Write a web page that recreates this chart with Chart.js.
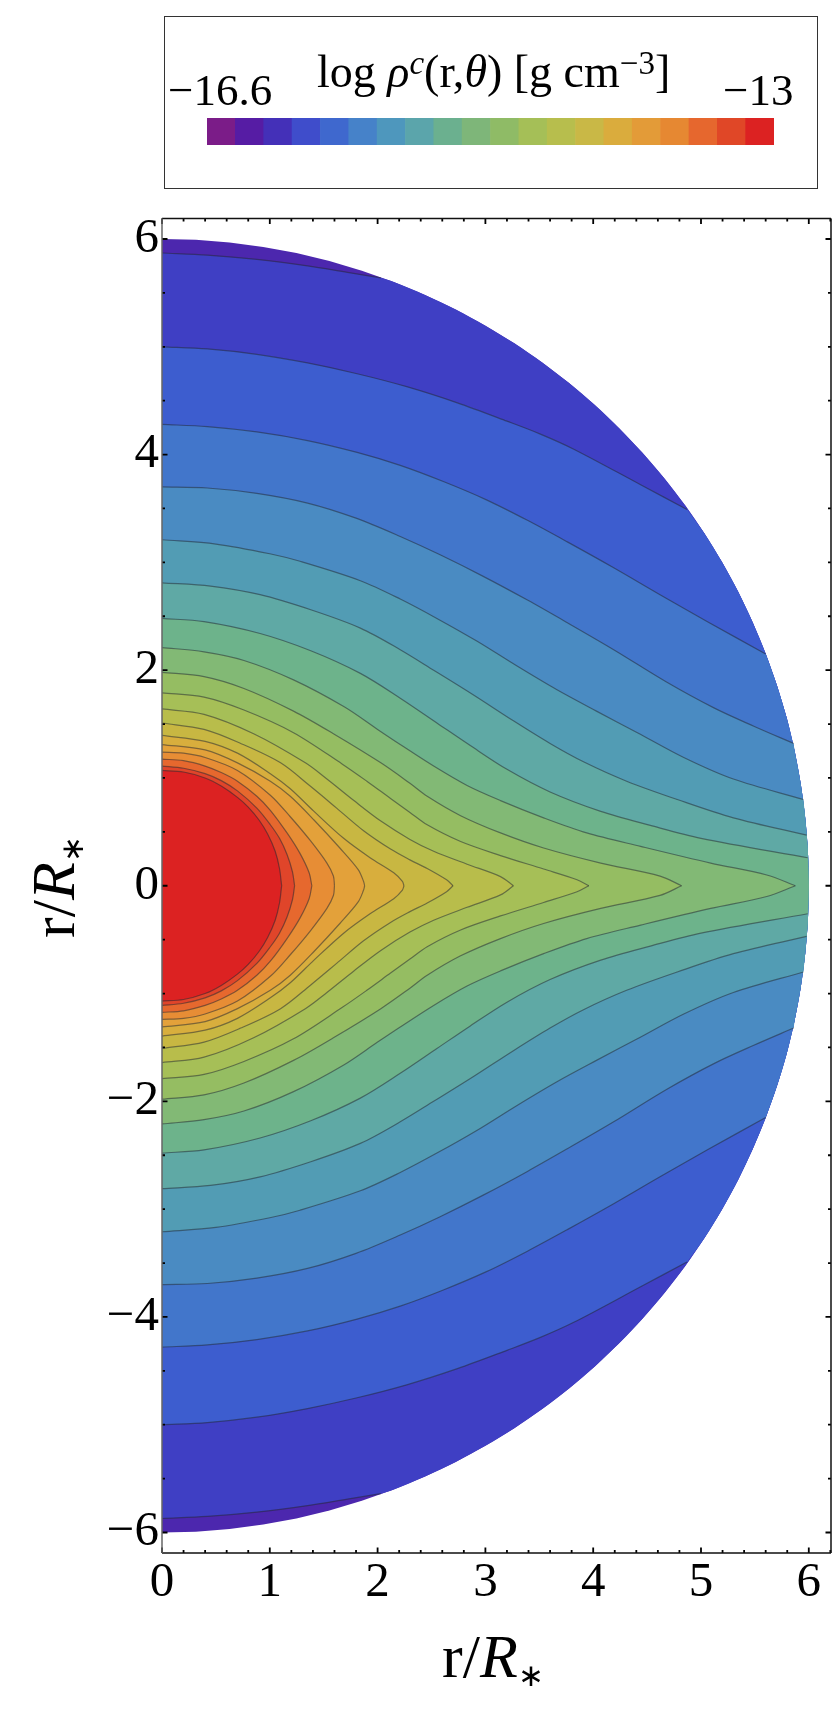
<!DOCTYPE html>
<html><head><meta charset="utf-8">
<style>
html,body{margin:0;padding:0;background:#fff;width:835px;height:1713px;overflow:hidden}
body{position:relative;font-family:"Liberation Serif",serif;color:#000}
#plot,#bar{position:absolute;display:block}
#plot{left:0;top:0}
#bar{left:207px;top:118px}
#box{position:absolute;left:164px;top:16px;width:652px;height:171px;border:1.6px solid #333;box-sizing:content-box}
.t{position:absolute;white-space:nowrap;line-height:0}
.t i{font-style:italic}
.up{position:relative;top:-.38em;font-size:.72em}
.dn{position:relative;top:.3em;font-size:.5em}
</style>
<script src="https://cdn.jsdelivr.net/npm/chart.js@4"></script>
</head><body>
<div id="box"></div>
<canvas id="bar" width="567" height="27"></canvas>
<canvas id="plot" width="835" height="1713"></canvas>
<div class="t" style="left:317px;top:71.5px;font-size:46px">log <i>ρ</i><span class="up"><i>c</i></span>(r,<i>θ</i>) [g cm<span class="up">−3</span>]</div>
<div class="t" style="left:168px;top:90px;font-size:45px">−16.6</div>
<div class="t" style="left:723px;top:90px;font-size:45px">−13</div>
<div class="t" style="left:442px;top:1656px;font-size:62px">r/<i>R</i><span class="dn">∗</span></div>
<div class="t" style="left:53px;top:938px;font-size:62px;transform:rotate(-90deg);transform-origin:0 0">r/<i>R</i><span class="dn">∗</span></div>
<script>
// Colour-bar levels and colours
const barLevels=['-16.6','-16.42','-16.24','-16.06','-15.88','-15.7','-15.52','-15.34','-15.16','-14.98','-14.8','-14.62','-14.44','-14.26','-14.08','-13.9','-13.72','-13.54','-13.36','-13.18'];
const barColors=['#7B1C88','#561CA4','#4430B8','#3F4DCB','#3F68CE','#4682C9','#4E97BD','#5BA5AB','#6BB08F','#7EB679','#8FBB66','#A5BF57','#B7BE4D','#C9B846','#DAAC3D','#E39B38','#E68832','#E6672E','#E04727','#DC2222'];
const barValues=[1,1,1,1,1,1,1,1,1,1,1,1,1,1,1,1,1,1,1,1];
// Fill colours of the plotted bands, outermost first
const bandColors=['#4C27AE','#3F3FC4','#3D5DCF','#4276CB','#4A8BC2','#529CB4','#5FA9A5','#6DB38B','#82B975','#95BD62','#A6BF57','#B8BD4B','#C8B742','#D8AE3D','#E3A13A','#E78D35','#E6682E','#E0452A','#DC2222'];
// Disk edge, upper half, read as [x,y]
const rim=[[6,0],[5.992,.314],[5.967,.627],[5.926,.939],[5.869,1.247],[5.796,1.553],[5.706,1.854],[5.601,2.15],[5.481,2.44],[5.346,2.724],[5.196,3],[5.032,3.268],[4.854,3.527],[4.663,3.776],[4.459,4.015],[4.243,4.243],[4.015,4.459],[3.776,4.663],[3.527,4.854],[3.268,5.032],[3,5.196],[2.724,5.346],[2.44,5.481],[2.15,5.601],[1.854,5.706],[1.553,5.796],[1.247,5.869],[.939,5.926],[.627,5.967],[.314,5.992],[0,6]];
// Contour lines, upper half, from the axis outward
const c01=[[0,5.87],[.42,5.85],[.88,5.81],[1.35,5.75],[1.72,5.69],[2.03,5.64]];
const c02=[[0,5],[.42,4.98],[.88,4.93],[1.35,4.85],[1.81,4.75],[2.27,4.63],[2.74,4.48],[3.2,4.31],[3.51,4.19],[3.82,4.05],[4.44,3.72],[4.87,3.49]];
const c03=[[0,4.28],[.42,4.26],[.88,4.21],[1.35,4.13],[1.81,4.02],[2.21,3.9],[2.61,3.75],[3.01,3.58],[3.39,3.39],[3.76,3.19],[4.19,2.95],[4.62,2.7],[5.06,2.45],[5.6,2.15]];
const c04=[[0,3.7],[.42,3.69],[.88,3.64],[1.35,3.55],[1.8,3.41],[2.21,3.24],[2.58,3.07],[2.98,2.87],[3.39,2.65],[3.76,2.44],[4.19,2.19],[4.68,1.89],[5.12,1.65],[5.49,1.48],[5.86,1.32]];
const c05=[[0,3.21],[.5,3.17],[1,3.08],[1.28,3.01],[1.84,2.83],[2.21,2.66],[2.55,2.48],[2.92,2.27],[3.29,2.04],[3.66,1.82],[4.03,1.62],[4.41,1.42],[4.84,1.19],[5.3,.99],[5.95,.8]];
const c06=[[0,2.81],[.45,2.78],[.91,2.7],[1.38,2.56],[1.84,2.39],[2.21,2.19],[2.52,2],[2.89,1.77],[3.26,1.53],[3.6,1.32],[3.91,1.15],[4.31,.97],[4.78,.8],[5.3,.63],[5.98,.47]];
const c07=[[0,2.48],[.39,2.45],[.91,2.34],[1.38,2.18],[1.84,1.97],[2.21,1.74],[2.55,1.51],[2.86,1.3],[3.2,1.08],[3.6,.87],[4.07,.69],[4.53,.56],[5,.44],[5.99,.26]];
const c08=[[0,2.21],[.39,2.17],[.76,2.09],[1.22,1.91],[1.69,1.66],[2,1.45],[2.21,1.31],[2.52,1.11],[2.83,.93],[3.14,.79],[3.54,.63],[3.94,.49],[4.44,.365],[5.09,.21],[5.61,.1],[5.875,0]];
const c09=[[0,1.98],[.39,1.94],[.76,1.83],[1.22,1.62],[1.59,1.41],[2.03,1.14],[2.3,.95],[2.46,.83],[2.77,.65],[3.14,.49],[3.54,.35],[4.07,.21],[4.62,.09],[4.82,0]];
const c10=[[0,1.79],[.39,1.75],[.76,1.63],[1.22,1.42],[1.67,1.13],[1.9,.97],[2.12,.81],[2.3,.68],[2.46,.565],[2.77,.41],[3.14,.28],[3.54,.155],[3.85,.056],[3.96,0]];
const c11=[[0,1.64],[.39,1.59],[.85,1.41],[1.33,1.14],[1.53,.99],[1.78,.79],[2.03,.6],[2.3,.43],[2.52,.32],[2.83,.2],[3.14,.085],[3.26,0]];
const c12=[[0,1.51],[.39,1.45],[.73,1.32],[1.1,1.14],[1.38,.92],[1.62,.72],[1.87,.51],[2.12,.34],[2.3,.24],[2.46,.16],[2.64,.055],[2.7,0]];
const c13=[[0,1.395],[.4,1.34],[.7,1.23],[1.005,1.04],[1.19,.9],[1.41,.69],[1.685,.44],[1.93,.26],[2.15,.12],[2.23,.04],[2.245,0]];
const c14=[[0,1.31],[.4,1.26],[.7,1.14],[1.005,.97],[1.19,.83],[1.41,.61],[1.65,.35],[1.82,.15],[1.87,.04],[1.88,0]];
const c15=[[0,1.24],[.2,1.23],[.4,1.19],[.7,1.07],[1.005,.84],[1.19,.64],[1.375,.42],[1.53,.21],[1.59,.09],[1.6,0]];
const c16=[[0,1.175],[.2,1.16],[.4,1.11],[.55,1.05],[.7,.97],[.88,.83],[1.005,.7],[1.16,.49],[1.28,.3],[1.365,.12],[1.39,0]];
const c17=[[0,1.11],[.2,1.09],[.4,1.04],[.55,.975],[.7,.88],[.88,.72],[1.005,.566],[1.09,.44],[1.16,.29],[1.21,.13],[1.23,0]];
const c18=[[0,1.07],[.2,1.055],[.4,1],[.55,.925],[.7,.82],[.8,.73],[.9,.61],[.98,.48],[1.05,.32],[1.09,.16],[1.11,0]];
const contours=[c01,c02,c03,c04,c05,c06,c07,c08,c09,c10,c11,c12,c13,c14,c15,c16,c17,c18];
// Axis ticks
const xTickLabels=[0,1,2,3,4,5,6];
const yTickLabels=[-6,-4,-2,0,2,4,6];
const xMinor=[.2,.4,.6,.8,1.2,1.4,1.6,1.8,2.2,2.4,2.6,2.8,3.2,3.4,3.6,3.8,4.2,4.4,4.6,4.8,5.2,5.4,5.6,5.8,6.2];
const yMinor=[-5.5,-5,-4.5,-3.5,-3,-2.5,-1.5,-1,-.5,.5,1,1.5,2.5,3,3.5,4.5,5,5.5];

const pt=p=>({x:p[0],y:p[1]});
const mirror=p=>({x:p[0],y:-p[1]});
function polygon(line){
  const upper=line.map(pt), lower=line.slice().reverse().map(mirror);
  const last=line[line.length-1], endY=last[1];
  if(endY===0) return upper.concat(lower);
  const arc=rim.filter(p=>p[1]<endY);
  return upper.concat([pt(last)],arc.slice().reverse().map(pt),arc.map(mirror),[mirror(last)],lower);
}
const TENSION=.32;
const datasets=[];
let order=1000;
datasets.push({data:rim.slice().reverse().map(pt).concat(rim.map(mirror)),fill:'shape',backgroundColor:bandColors[0],borderWidth:0,showLine:true,pointRadius:0,tension:0,order:order--});
contours.forEach((line,i)=>{
  datasets.push({data:polygon(line),fill:'shape',backgroundColor:bandColors[i+1],borderWidth:0,showLine:true,pointRadius:0,tension:TENSION,order:order--});
});
contours.forEach(line=>{
  [line.map(pt),line.map(mirror)].forEach(d=>{
    datasets.push({data:d,fill:false,borderColor:'rgba(35,40,50,.52)',borderWidth:1.2,showLine:true,pointRadius:0,tension:TENSION,order:order--});
  });
});
const serif='"Liberation Serif",serif';
const frame={id:'frame',afterDraw(ch){
  const c=ch.ctx,a=ch.chartArea,X=ch.scales.x,Y=ch.scales.y;
  c.save();
  c.strokeStyle='#000';c.lineWidth=1.8;c.beginPath();
  const xt=(v,l)=>{const p=X.getPixelForValue(v);c.moveTo(p,a.bottom);c.lineTo(p,a.bottom-l);c.moveTo(p,a.top);c.lineTo(p,a.top+l);};
  const yt=(v,l)=>{const p=Y.getPixelForValue(v);c.moveTo(a.left,p);c.lineTo(a.left+l,p);c.moveTo(a.right,p);c.lineTo(a.right-l,p);};
  xTickLabels.forEach(v=>xt(v,5.5));xMinor.forEach(v=>xt(v,3));
  yTickLabels.forEach(v=>yt(v,5.5));yMinor.forEach(v=>yt(v,3));
  c.stroke();
  c.lineWidth=1.5;c.strokeStyle='#111';c.beginPath();
  c.moveTo(a.left,a.top);c.lineTo(a.right,a.top);c.moveTo(a.left,a.bottom);c.lineTo(a.right,a.bottom);c.moveTo(a.right,a.top);c.lineTo(a.right,a.bottom);c.stroke();
  c.strokeStyle='#666';c.beginPath();c.moveTo(a.left,a.top);c.lineTo(a.left,a.bottom);c.stroke();
  c.restore();
}};
const minus=v=>String(v).replace('-','\u2212');
new Chart(document.getElementById('plot'),{type:'scatter',data:{datasets},plugins:[frame],options:{
  responsive:false,animation:false,events:[],
  layout:{padding:{left:0,right:4,top:218.5,bottom:0}},
  plugins:{legend:{display:false},title:{display:false},tooltip:{enabled:false}},
  scales:{
    x:{type:'linear',min:0,max:6.206,afterFit(s){s.height=160;},
      grid:{display:false,drawTicks:false},border:{display:false},
      ticks:{stepSize:1,includeBounds:false,maxRotation:0,padding:1,color:'#000',font:{family:serif,size:49},callback:minus}},
    y:{type:'linear',min:-6.19,max:6.19,afterFit(s){s.width=162;},
      grid:{display:false,drawTicks:false},border:{display:false},
      ticks:{stepSize:2,includeBounds:false,padding:3,color:'#000',font:{family:serif,size:49},callback:minus}}
  }}});
new Chart(document.getElementById('bar'),{type:'bar',data:{labels:barLevels,datasets:[{data:barValues,backgroundColor:barColors,barPercentage:1,categoryPercentage:1,borderWidth:0}]},options:{
  responsive:false,animation:false,events:[],
  layout:{padding:0},
  plugins:{legend:{display:false},title:{display:false},tooltip:{enabled:false}},
  scales:{x:{display:false},y:{display:false,min:0,max:1}}}});
</script>
</body></html>
